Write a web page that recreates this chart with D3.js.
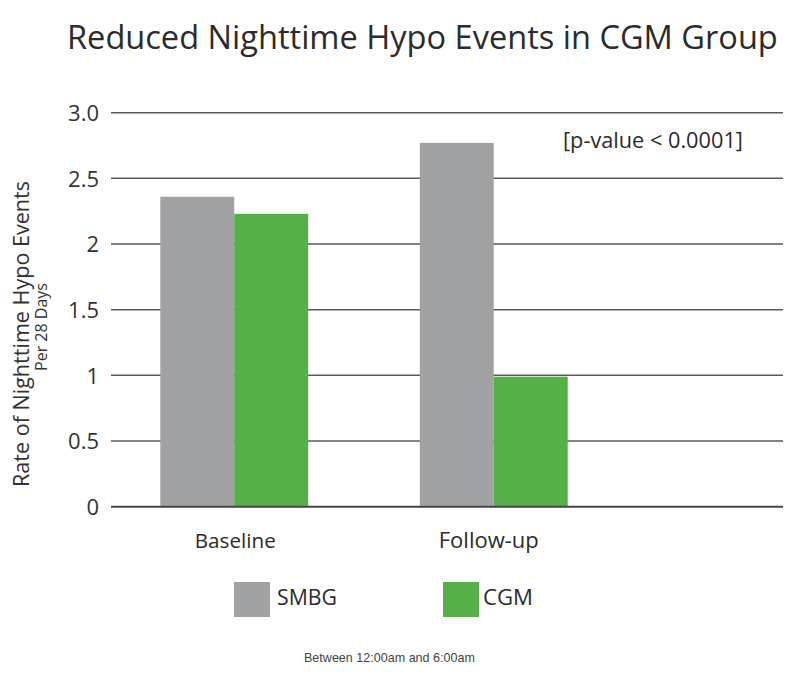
<!DOCTYPE html>
<html><head><meta charset="utf-8">
<script src="https://cdn.jsdelivr.net/npm/d3@7"></script>
<style>body{margin:0;background:#fff}svg{display:block}</style>
</head><body><svg id="c" width="800" height="686" font-family="'Open Sans',Lato,sans-serif"></svg>
<script>
const categories = ["Baseline", "Follow-up"];
const seriesNames = ["SMBG", "CGM"];
const smbgValues = [2.36, 2.77];
const cgmValues = [2.23, 0.99];
const yTicks = [0, 0.5, 1, 1.5, 2, 2.5, 3.0];
const yTickLabels = ["0", "0.5", "1", "1.5", "2", "2.5", "3.0"];
const colors = ["#a1a2a4", "#55b048"];

const svg = d3.select("#c");
// scale a text's font-size so its rendered width matches a target width
function fit(sel, target) {
  sel.each(function (d, i) {
    const t = Array.isArray(target) ? target[i] : target;
    const fs = parseFloat(this.getAttribute("font-size"));
    const w = this.getComputedTextLength();
    if (w > 0) this.setAttribute("font-size", (fs * t / w).toFixed(2));
  });
  return sel;
}

const y = d3.scaleLinear().domain([0, 3]).range([506.7, 112.7]);
const x0 = d3.scaleBand().domain(categories).range([111, 617]).paddingInner(0.43).paddingOuter(0.19);
const x1 = d3.scaleBand().domain(seriesNames).range([0, x0.bandwidth()]);

// title
fit(svg.append("text").attr("x", 67).attr("y", 49).attr("font-size", 30).attr("fill", "#2b2b2b")
  .text("Reduced Nighttime Hypo Events in CGM Group"), 711);

// gridlines
svg.append("g").selectAll("line").data(yTicks.filter(d => d > 0)).join("line")
  .attr("x1", 111).attr("x2", 783).attr("y1", d => y(d)).attr("y2", d => y(d))
  .attr("stroke", "#5a5a5a").attr("stroke-width", 1.5);

// y axis labels
const yAxis = d3.axisLeft(y).tickValues(yTicks).tickSize(0).tickPadding(0)
  .tickFormat((d, i) => yTickLabels[i]);
const ya = svg.append("g").attr("transform", "translate(99,0)").call(yAxis);
ya.select(".domain").remove();
ya.selectAll("text").attr("font-size", 22).attr("fill", "#333")
  .attr("font-family", "'Open Sans',Lato,sans-serif").attr("dy", "0.36em");

// bars
const data = categories.map((c, i) => ({cat: c, vals: [smbgValues[i], cgmValues[i]]}));
const groups = svg.append("g").selectAll("g").data(data).join("g")
  .attr("transform", d => `translate(${x0(d.cat)},0)`);
groups.selectAll("rect").data(d => d.vals.map((v, j) => ({s: seriesNames[j], v, j}))).join("rect")
  .attr("x", d => x1(d.s)).attr("width", x1.bandwidth())
  .attr("y", d => y(d.v)).attr("height", d => y(0) - y(d.v))
  .attr("fill", d => colors[d.j]);

// baseline axis
svg.append("line").attr("x1", 111).attr("x2", 783).attr("y1", y(0)).attr("y2", y(0))
  .attr("stroke", "#444").attr("stroke-width", 2);

// x axis labels
const xAxis = d3.axisBottom(x0).tickSize(0).tickPadding(0);
const xa = svg.append("g").attr("transform", "translate(0,548)").call(xAxis);
xa.select(".domain").remove();
xa.selectAll("text").attr("font-size", 21).attr("fill", "#2b2b2b")
  .attr("font-family", "'Open Sans',Lato,sans-serif").attr("dy", 0)
  .attr("dx", (d, i) => [1, -5][i])
  .call(fit, [81, 100]);

// y axis title
svg.append("text").attr("transform", "translate(29,334) rotate(-90)").attr("text-anchor", "middle")
  .attr("font-size", 17).attr("fill", "#333").text("Rate of Nighttime Hypo Events").call(fit, 306);
svg.append("text").attr("transform", "translate(47,327) rotate(-90)").attr("text-anchor", "middle")
  .attr("font-size", 14).attr("fill", "#333").text("Per 28 Days").call(fit, 88);

// p-value
svg.append("text").attr("x", 563).attr("y", 148).attr("font-size", 18).attr("fill", "#2b2b2b")
  .text("[p-value < 0.0001]").call(fit, 180);

// legend
const legX = [234, 443];
const leg = svg.append("g").selectAll("g").data(seriesNames).join("g")
  .attr("transform", (d, i) => `translate(${legX[i]},582)`);
leg.append("rect").attr("width", 36).attr("height", 35).attr("fill", (d, i) => colors[i]);
leg.append("text").attr("x", (d, i) => [43, 40][i]).attr("y", 23).attr("font-size", 20)
  .attr("fill", "#2b2b2b").text(d => d).call(fit, [60, 50]);

// footnote
svg.append("text").attr("x", 304).attr("y", 662).attr("font-size", 12)
  .attr("font-family", "'Liberation Sans',Arial,sans-serif").attr("fill", "#444")
  .text("Between 12:00am and 6:00am").call(fit, 171);
</script></body></html>
